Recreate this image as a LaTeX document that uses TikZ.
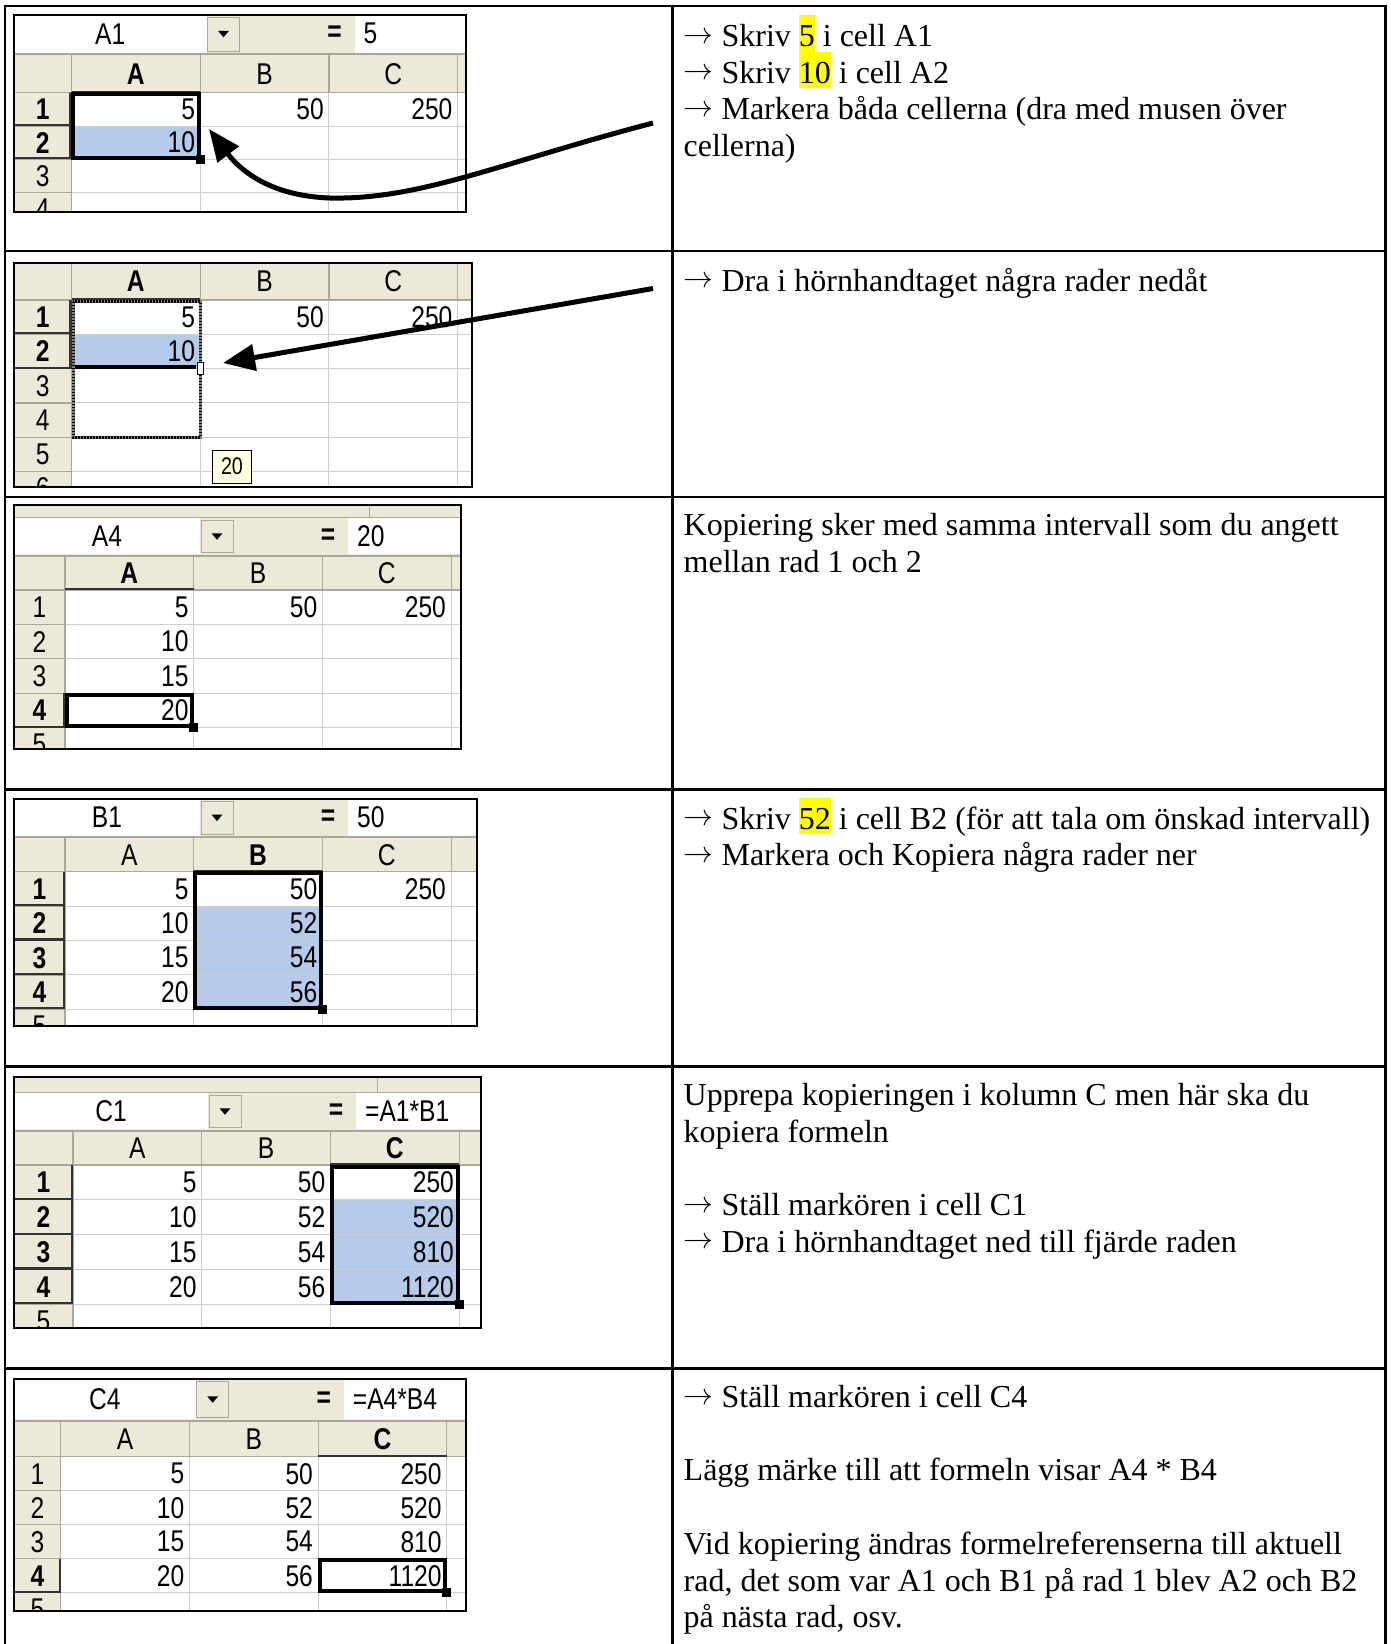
\documentclass[tikz,border=0pt]{standalone}
\usepackage{fontspec}
\setmainfont{Liberation Serif}
\newfontfamily\xlfont[FakeStretch=0.82]{Liberation Sans}
\usetikzlibrary{arrows.meta}

\definecolor{hdrbg}{RGB}{236,233,216}
\definecolor{hdrline}{RGB}{172,168,153}
\definecolor{gridgray}{RGB}{206,206,206}
\definecolor{selblue}{RGB}{182,202,234}
\definecolor{tipbg}{RGB}{255,255,225}
\definecolor{hiyellow}{RGB}{255,255,0}

\newcommand{\colw}{128.7}
\newcommand{\hilite}[1]{{\setlength{\fboxsep}{0pt}\colorbox{hiyellow}{\rule[-5.2pt]{0pt}{36.5pt}#1}}}
\newcommand{\stp}{\raisebox{3.5pt}{\scalebox{1.2}{$\rightarrow$}}\ }

\tikzset{
  rowhdr/.store in=\rowhdr,
  hdrh/.store in=\hdrh,
  rowh/.store in=\rowh,
  sheetw/.store in=\sheetw,
  sheeth/.store in=\sheeth,
  sn/.store in=\sn,
  tableline/.style={line width=2.6pt, line cap=rect},
  gridline/.style={draw=gridgray, line width=1pt},
  hdrsep/.style={draw=hdrline, line width=1.2pt},
  seledge/.style={draw=black!80, line width=2.2pt},
  sheetframe/.style={draw=black, line width=2pt},
  selbox/.style={draw=black, line width=4pt},
  ants/.style={draw=black, line width=3pt, dash pattern=on 1.5pt off 1.5pt},
  xl/.style={font=\xlfont\fontsize{30}{34}\selectfont, inner sep=0pt},
  xlbold/.style={font=\xlfont\bfseries\fontsize{30}{34}\selectfont, inner sep=0pt},
  hdr/.style={xl},
  hdrsel/.style={xlbold},
  cellval/.style={xl, anchor=east},
  tiplabel/.style={draw=black, fill=tipbg, line width=1pt, minimum width=39pt, minimum height=33pt, inner sep=0pt, font=\xlfont\fontsize{24}{28}\selectfont},
  steptext/.style={font=\fontsize{32}{36.7}\selectfont, anchor=base west, inner sep=0pt, text width=760pt, align=flush left},
  bigarrow/.style={line width=5pt, -{Triangle[length=32pt,width=26pt]}},
}

\newcommand{\sheetbg}{%
  \fill[white] (0,0) rectangle (\sheetw,\sheeth);
  \fill[hdrbg] (0,0) rectangle (\sheetw,\hdrh);
  \fill[hdrbg] (0,0) rectangle (\rowhdr,\sheeth);
}
\newcommand{\bluecells}[4]{%
  \fill[selblue] ({\rowhdr+(#1-1)*\colw},{\hdrh+(#2-1)*\rowh}) rectangle ({\rowhdr+#3*\colw},{\hdrh+#4*\rowh});
}
\newcommand{\sheetgrid}[3]{%
  \foreach \kk in {1,...,6} {
    \draw[gridline] (\rowhdr,{\hdrh+\kk*\rowh}) -- (\sheetw,{\hdrh+\kk*\rowh});
    \draw[hdrsep] (0,{\hdrh+\kk*\rowh}) -- (\rowhdr,{\hdrh+\kk*\rowh});
  }
  \foreach \kk in {1,2,3} {
    \draw[gridline] ({\rowhdr+\kk*\colw},\hdrh) -- ({\rowhdr+\kk*\colw},\sheeth);
    \draw[hdrsep] ({\rowhdr+\kk*\colw},0) -- ({\rowhdr+\kk*\colw},\hdrh);
  }
  \draw[hdrsep] (0,\hdrh) -- (\sheetw,\hdrh);
  \draw[hdrsep] (\rowhdr,0) -- (\rowhdr,\sheeth);
  \foreach \col/\lbl/\sty in {#1}
    \node[\sty] (\sn-h\lbl) at ({\rowhdr+(\col-0.5)*\colw},{\hdrh/2}) {\lbl};
  \foreach \row/\sty in {#2}
    \node[\sty] (\sn-r\row) at ({\rowhdr/2},{\hdrh+(\row-0.5)*\rowh}) {\row};
  \foreach \col/\row/\val in {#3}
    \node[cellval] (\sn-v\col\row) at ({\rowhdr+\col*\colw-5},{\hdrh+(\row-0.5)*\rowh}) {\val};
}
\newcommand{\selcols}[2]{%
  \draw[seledge] ({\rowhdr+(#1-1)*\colw},{\hdrh-1}) -- ({\rowhdr+#2*\colw},{\hdrh-1});
}
\newcommand{\selrows}[2]{%
  \draw[seledge] ({\rowhdr-1},{\hdrh+(#1-1)*\rowh}) -- ({\rowhdr-1},{\hdrh+#2*\rowh});
  \foreach \row in {#1,...,#2}
    \draw[seledge] (0,{\hdrh+\row*\rowh-1}) -- (\rowhdr,{\hdrh+\row*\rowh-1});
}
\newcommand{\selrange}[4]{%
  \draw[selbox] ({\rowhdr+(#1-1)*\colw+1.5},{\hdrh+(#2-1)*\rowh+1.5}) rectangle ({\rowhdr+#3*\colw-1.5},{\hdrh+#4*\rowh-1.5});
  \fill ({\rowhdr+#3*\colw-4.5},{\hdrh+#4*\rowh-4.5}) rectangle ++(9,9);
}
\newcommand{\toolstrip}[2]{%
  \fill[hdrbg] (0,#1) rectangle (\sheetw,#2);
  \draw[hdrline, line width=1pt] (0,{#2-1}) -- (\sheetw,{#2-1});
  \draw[hdrline, line width=1pt] ({\rowhdr+304},#1) -- ({\rowhdr+304},#2);
}
\newcommand{\namebar}[3]{%
  \fill[hdrbg] (0,#1) rectangle (\sheetw,0);
  \fill[white] (0,#1) rectangle ({\rowhdr+135},-2.5);
  \fill[white] ({\rowhdr+283},#1) rectangle (\sheetw,-2.5);
  \draw[hdrline, fill=hdrbg, line width=1pt] ({\rowhdr+136},{#1+2}) rectangle ({\rowhdr+168},-4);
  \fill ({\rowhdr+146.5},{(#1-2.5)/2-3}) -- ++(11,0) -- ++(-5.5,6.5) -- cycle;
  \node[xl] (\sn-name) at ({(\rowhdr+135)/2},{(#1-2.5)/2}) {#2};
  \node[xlbold] (\sn-eq) at ({\rowhdr+263},{(#1-2.5)/2}) {=};
  \node[xl, anchor=west] (\sn-fx) at ({\rowhdr+292},{(#1-2.5)/2}) {#3};
  \draw[hdrline, line width=2pt] (0,-1.2) -- (\sheetw,-1.2);
}

\begin{document}
\begin{tikzpicture}[x=1pt, y=-1pt]
\useasboundingbox (0,0) rectangle (1390,1644);
\foreach \yy in {6,251,497,789.5,1066.5,1368.5}
  \draw[tableline] (5,\yy) -- (1385.5,\yy);
\foreach \xx in {5,672.5,1385.5}
  \draw[tableline] (\xx,6) -- (\xx,1644);

\begin{scope}[shift={(14,55)}, sn=s1, rowhdr=57.5, hdrh=37.7, rowh=33.3, sheetw=452, sheeth=156.7]
  \begin{scope}
    \clip (0,-40) rectangle (\sheetw,\sheeth);
    \sheetbg
    \bluecells{1}{2}{1}{2}
    \sheetgrid{1/A/hdrsel, 2/B/hdr, 3/C/hdr}{1/hdrsel, 2/hdrsel, 3/hdr, 4/hdr}{1/1/5, 1/2/10, 2/1/50, 3/1/250}
    \selcols{1}{1}
    \selrows{1}{2}
    \selrange{1}{1}{1}{2}
    \namebar{-40}{A1}{5}
  \end{scope}
  \draw[sheetframe] (0,-40) rectangle (\sheetw,\sheeth);
\end{scope}

\begin{scope}[shift={(14,263.3)}, sn=s2, rowhdr=57.5, hdrh=36.7, rowh=34.3, sheetw=457.8, sheeth=223.4]
  \begin{scope}
    \clip (0,0) rectangle (\sheetw,\sheeth);
    \sheetbg
    \bluecells{1}{2}{1}{2}
    \sheetgrid{1/A/hdrsel, 2/B/hdr, 3/C/hdr}{1/hdrsel, 2/hdrsel, 3/hdr, 4/hdr, 5/hdr, 6/hdr}{1/1/5, 1/2/10, 2/1/50, 3/1/250}
    \selcols{1}{1}
    \selrows{1}{2}
    \draw[selbox] (\rowhdr,{\hdrh+2*\rowh-1.5}) -- ({\rowhdr+\colw-4},{\hdrh+2*\rowh-1.5});
    \draw[gray, line width=3pt] ({\rowhdr+1.5},{\hdrh+1.5}) rectangle ({\rowhdr+\colw},{\hdrh+4*\rowh});
    \draw[ants] ({\rowhdr+1.5},{\hdrh+1.5}) rectangle ({\rowhdr+\colw},{\hdrh+4*\rowh});
    \draw[fill=white, line width=1pt] ({\rowhdr+\colw-3},{\hdrh+2*\rowh-6}) rectangle ++(6,12);
    \node[tiplabel] (s2-tip) at (218,203.4) {20};
  \end{scope}
  \draw[sheetframe] (0,0) rectangle (\sheetw,\sheeth);
\end{scope}

\begin{scope}[shift={(14,556.7)}, sn=s3, rowhdr=51, hdrh=33.3, rowh=34.4, sheetw=446.5, sheeth=192.6]
  \begin{scope}
    \clip (0,-51.7) rectangle (\sheetw,\sheeth);
    \sheetbg
    \sheetgrid{1/A/hdrsel, 2/B/hdr, 3/C/hdr}{1/hdr, 2/hdr, 3/hdr, 4/hdrsel, 5/hdr}{1/1/5, 1/2/10, 1/3/15, 1/4/20, 2/1/50, 3/1/250}
    \selcols{1}{1}
    \selrows{4}{4}
    \selrange{1}{4}{1}{4}
    \toolstrip{-51.7}{-38.4}
    \namebar{-38.4}{A4}{20}
  \end{scope}
  \draw[sheetframe] (0,-51.7) rectangle (\sheetw,\sheeth);
\end{scope}

\begin{scope}[shift={(14,838.3)}, sn=s4, rowhdr=51, hdrh=33.4, rowh=34.4, sheetw=463, sheeth=187.7]
  \begin{scope}
    \clip (0,-39) rectangle (\sheetw,\sheeth);
    \sheetbg
    \bluecells{2}{2}{2}{4}
    \sheetgrid{1/A/hdr, 2/B/hdrsel, 3/C/hdr}{1/hdrsel, 2/hdrsel, 3/hdrsel, 4/hdrsel, 5/hdr}{1/1/5, 1/2/10, 1/3/15, 1/4/20, 2/1/50, 2/2/52, 2/3/54, 2/4/56, 3/1/250}
    \selcols{2}{2}
    \selrows{1}{4}
    \selrange{2}{1}{2}{4}
    \namebar{-39}{B1}{50}
  \end{scope}
  \draw[sheetframe] (0,-39) rectangle (\sheetw,\sheeth);
\end{scope}

\begin{scope}[shift={(14,1131.7)}, sn=s5, rowhdr=59, hdrh=33.3, rowh=34.8, sheetw=466.5, sheeth=196.6]
  \begin{scope}
    \clip (0,-55) rectangle (\sheetw,\sheeth);
    \sheetbg
    \bluecells{3}{2}{3}{4}
    \sheetgrid{1/A/hdr, 2/B/hdr, 3/C/hdrsel}{1/hdrsel, 2/hdrsel, 3/hdrsel, 4/hdrsel, 5/hdr}{1/1/5, 1/2/10, 1/3/15, 1/4/20, 2/1/50, 2/2/52, 2/3/54, 2/4/56, 3/1/250, 3/2/520, 3/3/810, 3/4/1120}
    \selcols{3}{3}
    \selrows{1}{4}
    \selrange{3}{1}{3}{4}
    \toolstrip{-55}{-38.4}
    \namebar{-38.4}{C1}{=A1*B1}
  \end{scope}
  \draw[sheetframe] (0,-55) rectangle (\sheetw,\sheeth);
\end{scope}

\begin{scope}[shift={(14,1421.7)}, sn=s6, rowhdr=46.7, hdrh=35, rowh=34, sheetw=452, sheeth=189]
  \begin{scope}
    \clip (0,-42.4) rectangle (\sheetw,\sheeth);
    \sheetbg
    \sheetgrid{1/A/hdr, 2/B/hdr, 3/C/hdrsel}{1/hdr, 2/hdr, 3/hdr, 4/hdrsel, 5/hdr}{1/1/5, 1/2/10, 1/3/15, 1/4/20, 2/1/50, 2/2/52, 2/3/54, 2/4/56, 3/1/250, 3/2/520, 3/3/810, 3/4/1120}
    \selcols{3}{3}
    \selrows{4}{4}
    \selrange{3}{4}{3}{4}
    \namebar{-42.4}{C4}{=A4*B4}
  \end{scope}
  \draw[sheetframe] (0,-42.4) rectangle (\sheetw,\sheeth);
\end{scope}

\node[steptext] (step1) at (683.5,46.5) {\stp Skriv \hilite{5} i cell A1\\\stp Skriv \hilite{10} i cell A2\\\stp Markera båda cellerna (dra med musen över\\cellerna)};
\node[steptext] (step2) at (683.5,291) {\stp Dra i hörnhandtaget några rader nedåt};
\node[steptext] (step3) at (683.5,535.5) {Kopiering sker med samma intervall som du angett\\mellan rad 1 och 2};
\node[steptext] (step4) at (683.5,829) {\stp Skriv \hilite{52} i cell B2 (för att tala om önskad intervall)\\\stp Markera och Kopiera några rader ner};
\node[steptext] (step5) at (683.5,1105.5) {Upprepa kopieringen i kolumn C men här ska du\\kopiera formeln\\[36.7pt]\stp Ställ markören i cell C1\\\stp Dra i hörnhandtaget ned till fjärde raden};
\node[steptext] (step6) at (683.5,1407.5) {\stp Ställ markören i cell C4\\[36.7pt]Lägg märke till att formeln visar A4 * B4\\[36.7pt]Vid kopiering ändras formelreferenserna till aktuell\\rad, det som var A1 och B1 på rad 1 blev A2 och B2\\på nästa rad, osv.};

\coordinate (from1) at (653,123);
\coordinate (tip1) at (209,129);
\draw[bigarrow] (from1) .. controls (500,163) and (420,200) .. (330,198) .. controls (270,196) and (240,170) .. (tip1);
\coordinate (from2) at (653,288.5);
\coordinate (tip2) at (223,363);
\draw[bigarrow] (from2) -- (tip2);
\end{tikzpicture}
\end{document}
